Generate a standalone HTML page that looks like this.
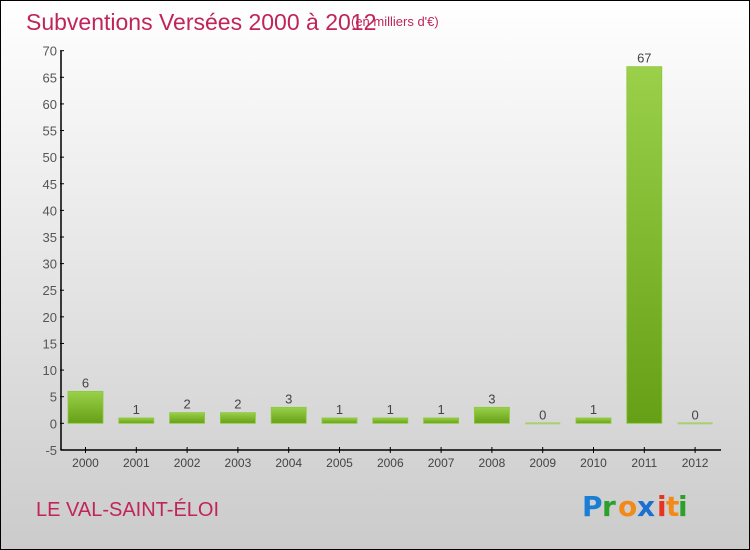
<!DOCTYPE html>
<html><head><meta charset="utf-8"><style>
html,body{margin:0;padding:0}
body{width:750px;height:550px;overflow:hidden;font-family:"Liberation Sans",sans-serif}
#wrap{position:absolute;left:0;top:0;width:748px;height:548px;border:1px solid #000;background:linear-gradient(#ffffff,#cbcbcb)}
</style></head><body>
<div id="wrap">
<svg width="748" height="548" viewBox="1 1 748 548" style="position:absolute;left:0;top:0">
<defs>
<linearGradient id="g" x1="0" y1="0" x2="0" y2="1"><stop offset="0" stop-color="#9ad04a"/><stop offset="1" stop-color="#66a016"/></linearGradient>
</defs>
<text x="26" y="30" font-size="23" fill="#c0245a" font-family="Liberation Sans, sans-serif">Subventions Versées 2000 à 2012</text>
<text x="351" y="26" font-size="13" fill="#c0245a">(en milliers d'€)</text>
<g id="axes"></g>
<g id="bars"></g>
<text x="36" y="516" font-size="20" fill="#c0245a">LE VAL-SAINT-ÉLOI</text>
<g font-size="28" font-weight="bold" font-family="DejaVu Sans, sans-serif">
<text x="582" y="516" fill="#1a7fd4">P</text><text x="602" y="516" fill="#2ca02c">r</text><text x="618" y="516" fill="#f28a1a">o</text><text x="637" y="516" fill="#1a6fd0">x</text><text x="657" y="516" fill="#e8331e">i</text><text x="666" y="516" fill="#f28a1a">t</text><text x="678" y="516" fill="#2ca02c">i</text>
</g>
</svg>
</div>
<script>
const categories=["2000","2001","2002","2003","2004","2005","2006","2007","2008","2009","2010","2011","2012"];
const values=[6,1,2,2,3,1,1,1,3,0,1,67,0];
const yTicks=[-5,0,5,10,15,20,25,30,35,40,45,50,55,60,65,70];
const NS="http://www.w3.org/2000/svg";
const y0=423.3,ppu=5.323,xl=61,xr=721,yb=450;
const ys=v=>y0-v*ppu;
const xs=i=>85.5+i*50.8;
function mk(t,a,p){const e=document.createElementNS(NS,t);for(const k in a)e.setAttribute(k,a[k]);p.appendChild(e);return e;}
const ax=document.getElementById('axes'),bg=document.getElementById('bars');
let l=mk('line',{x1:xl,y1:ys(70),x2:xl,y2:yb,stroke:'#000','stroke-width':1.5},ax);


l=mk('line',{x1:xl,y1:yb,x2:xr,y2:yb,stroke:'#000','stroke-width':1.5},ax);


yTicks.forEach(v=>{const y=ys(v);
mk('line',{x1:xl-1,y1:y,x2:xl+3,y2:y,stroke:'#000'},ax);
const t=mk('text',{x:xl-4,y:y+5,'text-anchor':'end','font-size':13,fill:'#555'},ax);t.textContent=v;

});
categories.forEach((c,i)=>{const x=xs(i);
mk('line',{x1:x,y1:yb-3,x2:x,y2:yb+3,stroke:'#000'},ax);
const t=mk('text',{x:x,y:yb+17,'text-anchor':'middle','font-size':12,fill:'#444'},ax);t.textContent=c;


const v=values[i];let r;
if(v===0){r=mk('rect',{x:x-17.5,y:y0-1,width:35,height:2,fill:'#a8d070'},bg);}
else{r=mk('rect',{x:x-17.5,y:ys(v),width:35,height:y0-ys(v),fill:'url(#g)',stroke:'#8cc83c','stroke-width':0.8},bg);}


const lb=mk('text',{x:x,y:ys(Math.max(v,0))-4,'text-anchor':'middle','font-size':13,fill:'#444'},bg);lb.textContent=v;

});
</script>
</body></html>
